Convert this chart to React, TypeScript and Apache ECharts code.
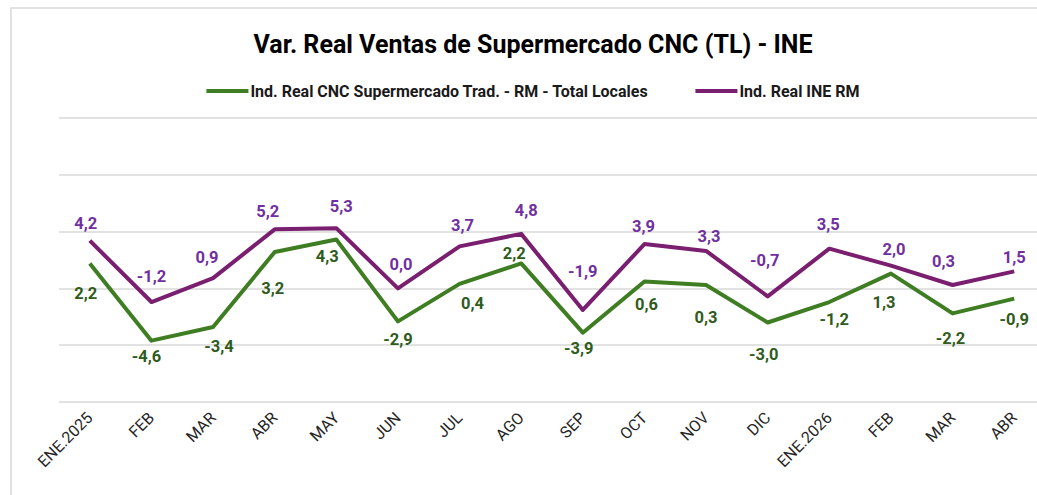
import React, { useEffect, useRef } from 'react';
import * as echarts from 'echarts';

const categories = ['ENE.2025', 'FEB', 'MAR', 'ABR', 'MAY', 'JUN', 'JUL', 'AGO', 'SEP', 'OCT', 'NOV', 'DIC', 'ENE.2026', 'FEB', 'MAR', 'ABR'];
const cncValues = [2.2, -4.6, -3.4, 3.2, 4.3, -2.9, 0.4, 2.2, -3.9, 0.6, 0.3, -3.0, -1.2, 1.3, -2.2, -0.9];
const ineValues = [4.2, -1.2, 0.9, 5.2, 5.3, 0.0, 3.7, 4.8, -1.9, 3.9, 3.3, -0.7, 3.5, 2.0, 0.3, 1.5];
const seriesNames = ['Ind. Real CNC Supermercado Trad. - RM - Total Locales', 'Ind. Real INE RM'];
const titleText = 'Var. Real Ventas de Supermercado CNC (TL) - INE';

// label placement offsets (px) relative to each point, as in the original
const cncLabelOffsets = [[-4, 30], [-5, 16], [6, 19], [-2, 36], [-9, 17], [0, 18], [13, 20], [-7, -10], [-4, 16], [2, 23], [0, 33], [-4, 32], [5, 17], [-7, 29], [-2, 25], [0, 21]];
const ineLabelOffsets = [[-4, -17], [0, -26], [-6, -21], [-7, -18], [5, -22], [3, -24], [3, -21], [5, -23], [0, -38], [-1, -18], [3, -14], [-3, -36], [-1, -24], [3, -16], [-9, -23], [0, -14]];

const FONT = 'Roboto, "Liberation Sans", sans-serif';
const fmt = (v: number) => v.toFixed(1).replace('.', ',');

export default function App() {
  const ref = useRef<HTMLDivElement>(null);
  useEffect(() => {
    if (!ref.current) return;
    const chart = echarts.init(ref.current, null, { renderer: 'svg' });
    const mk = (name: string, values: number[], offsets: number[][], lineColor: string, labelColor: string) => ({
      name,
      type: 'line',
      data: values.map((v, i) => ({
        value: v,
        label: { offset: offsets[i] },
      })),
      symbol: 'circle',
      symbolSize: 0,
      showSymbol: true,
      lineStyle: { color: lineColor, width: 4, join: 'round' },
      itemStyle: { color: lineColor },
      label: {
        show: true,
        position: 'inside',
        formatter: (p: any) => fmt(p.value),
        color: labelColor,
        fontFamily: FONT,
        fontWeight: 'bold',
        fontSize: 16.5,
      },
      emphasis: { disabled: true },
    });
    chart.setOption({
      animation: false,
      backgroundColor: '#ffffff',
      title: {
        text: titleText,
        left: 'center',
        top: 27,
        textStyle: { fontFamily: FONT, fontWeight: 'bold', fontSize: 25, color: '#000000' },
      },
      legend: {
        data: seriesNames,
        left: 'center',
        top: 78,
        icon: 'rect',
        itemWidth: 42,
        itemHeight: 4,
        itemGap: 47,
        itemStyle: { borderWidth: 0 },
        textStyle: { fontFamily: FONT, fontWeight: 'bold', fontSize: 16, color: '#1a1a1a', padding: [0, 0, 0, -3] },
      },
      grid: { left: 59, right: 21, top: 118, bottom: 93, containLabel: false },
      xAxis: {
        type: 'category',
        data: categories,
        boundaryGap: true,
        axisLine: { show: false },
        axisTick: { show: false },
        axisLabel: { rotate: 45, margin: 13, fontFamily: FONT, fontSize: 16, color: '#262626', interval: 0 },
      },
      yAxis: {
        type: 'value',
        min: -10,
        max: 15,
        interval: 5,
        axisLabel: { show: false },
        axisLine: { show: false },
        axisTick: { show: false },
        splitLine: { lineStyle: { color: '#d9d9d9', width: 1.5 } },
      },
      graphic: [
        {
          type: 'rect',
          shape: { x: 11, y: 8, width: 1100, height: 600 },
          style: { fill: 'none', stroke: '#d9d9d9', lineWidth: 1.5 },
          silent: true,
        },
      ],
      series: [
        mk(seriesNames[0], cncValues, cncLabelOffsets, '#3e7d22', '#2f5b1c'),
        mk(seriesNames[1], ineValues, ineLabelOffsets, '#7a1f6f', '#7030a0'),
      ],
    });
    return () => chart.dispose();
  }, []);
  return (
    <div style={{ position: 'absolute', left: 0, top: 0, width: 1037, height: 495, overflow: 'hidden', background: '#fff' }}>
      <div ref={ref} style={{ width: 1066, height: 495 }} />
    </div>
  );
}
